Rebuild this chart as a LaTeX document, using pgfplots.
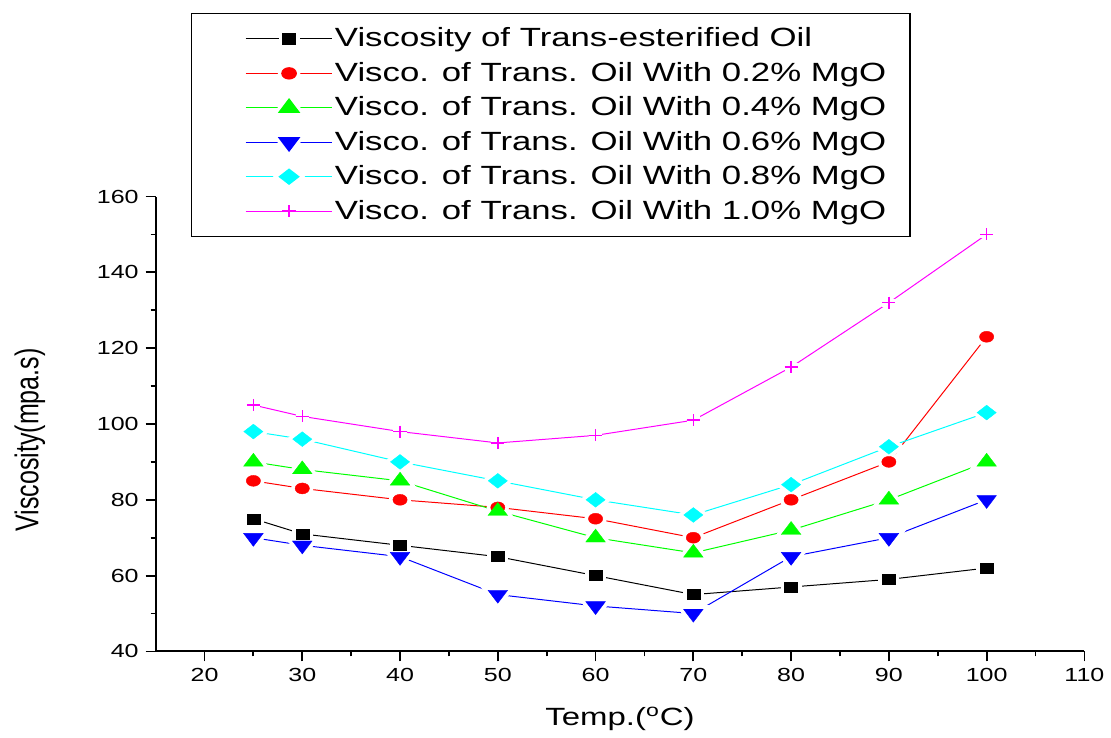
\documentclass[border=0pt]{standalone}
\usepackage{fontspec}
\setmainfont{Liberation Sans}[FakeStretch=1.32]
\newfontfamily\ylabfont{Liberation Sans}[FakeStretch=0.76]
\usepackage{pgfplots}
\usepackage{pgfplotstable}
\pgfplotsset{compat=1.18}
\definecolor{cMag}{RGB}{255,0,255}
\definecolor{cCy}{RGB}{0,255,255}
\definecolor{cGr}{RGB}{0,255,0}
\definecolor{cBl}{RGB}{0,0,255}
\definecolor{cRd}{RGB}{255,0,0}

\pgfplotstableread{
x y
25 75
30 71
40 68
50 65
60 60
70 55
80 57
90 59
100 62
}\tOil
\pgfplotstableread{
x y
25 85
30 83
40 80
50 78
60 75
70 70
80 80
90 90
100 123
}\tTwo
\pgfplotstableread{
x y
25 90
30 88
40 85
50 77
60 70
70 66
80 72
90 80
100 90
}\tFour
\pgfplotstableread{
x y
25 70
30 68
40 65
50 55
60 52
70 50
80 65
90 70
100 80
}\tSix
\pgfplotstableread{
x y
25 98
30 96
40 90
50 85
60 80
70 76
80 84
90 94
100 103
}\tEight
\pgfplotstableread{
x y
25 105
30 102
40 98
50 95
60 97
70 101
80 115
90 132
100 150
}\tTen

% marker shapes (the picture is stretched sideways, so are the marks)
\tikzset{
  mkA/.style={mark=square*, mark size=2.5pt, mark options={xscale=1.3, #1}},
  mkB/.style={mark=*, mark size=2.75pt, mark options={xscale=1.3, #1}},
  mkC/.style={mark=triangle*, mark size=4.33pt, mark options={xscale=1.31, #1}},
  mkD/.style={mark=triangle*, mark size=4.33pt, mark options={xscale=1.31, rotate=180, #1}},
  mkE/.style={mark=diamond*, mark size=3.7pt, mark options={xscale=1.73, #1}},
  mkF/.style={mark=+, mark size=3pt, mark options={xscale=1.1, #1}},
  halo/.style={draw=white, fill=white, line width=4pt},
}
% legend sample: line in colour #1, gap, mark style #2
\pgfplotsset{leg/.style 2 args={legend image code/.code={
  \path (0pt,0pt);
  \draw[draw=#1, line width=0.5pt] (16pt,0pt) -- (59.5pt,0pt);
  \path plot[#2={halo}] coordinates {(37.75pt,0pt)};
  \path plot[#2={draw=#1, fill=#1, line width=0.7pt}] coordinates {(37.75pt,0pt)};}}}

\begin{document}
\begin{tikzpicture}
\begin{axis}[
  name=ax,
  scale only axis,
  width=465.5pt, height=228pt,
  xmin=15, xmax=110, ymin=40, ymax=160,
  xtick={20,30,...,110}, ytick={40,60,...,160},
  minor x tick num=1, minor y tick num=1,
  axis lines=left,
  axis line style={-, line width=1pt},
  tick style={black, line width=0.9pt},
  tick align=outside,
  major tick length=5pt, minor tick length=2.5pt,
  /pgf/number format/assume math mode=true,
  ticklabel style={font=\fontsize{9.5}{11}\selectfont},
  xlabel={Temp.(\textsuperscript{o}C)},
  xlabel style={font=\fontsize{12.5}{15}\selectfont},
  xlabel shift=6pt,
  ylabel={Viscosity(mpa.s)},
  ylabel style={font=\fontsize{16.5}{19}\ylabfont, xshift=-8pt},
  ylabel shift=19pt,
  every axis plot/.append style={line width=0.5pt},
  legend cell align=left,
  legend style={
    at={(0.0376,1.4035)}, anchor=north west,
    draw=black, line width=0.75pt,
    font=\fontsize{13.2}{16}\selectfont,
    inner xsep=11pt, inner ysep=4pt,
    row sep=0pt,
    nodes={inner ysep=3.1pt, inner xsep=1pt},
  },
]
% lines
\addplot[black, no markers, leg={black}{mkA}] table {\tOil};
\addlegendentry{Viscosity of Trans-esterified Oil}
\addplot[cRd, no markers, leg={cRd}{mkB}] table {\tTwo};
\addlegendentry{Visco. of Trans. Oil With 0.2\% MgO}
\addplot[cGr, no markers, leg={cGr}{mkC}] table {\tFour};
\addlegendentry{Visco. of Trans. Oil With 0.4\% MgO}
\addplot[cBl, no markers, leg={cBl}{mkD}] table {\tSix};
\addlegendentry{Visco. of Trans. Oil With 0.6\% MgO}
\addplot[cCy, no markers, leg={cCy}{mkE}] table {\tEight};
\addlegendentry{Visco. of Trans. Oil With 0.8\% MgO}
\addplot[cMag, no markers, leg={cMag}{mkF}] table {\tTen};
\addlegendentry{Visco. of Trans. Oil With 1.0\% MgO}
% white gaps round the marks
\addplot[only marks, forget plot, mkA={halo}] table {\tOil};
\addplot[only marks, forget plot, mkB={halo}] table {\tTwo};
\addplot[only marks, forget plot, mkC={halo}] table {\tFour};
\addplot[only marks, forget plot, mkD={halo}] table {\tSix};
\addplot[only marks, forget plot, mkE={halo}] table {\tEight};
\addplot[only marks, forget plot, mkF={halo}] table {\tTen};
% marks
\addplot[only marks, forget plot, mkA={draw=black, fill=black, line width=0.2pt}] table {\tOil};
\addplot[only marks, forget plot, mkB={draw=cRd, fill=cRd, line width=0.2pt}] table {\tTwo};
\addplot[only marks, forget plot, mkC={draw=cGr, fill=cGr, line width=0.2pt}] table {\tFour};
\addplot[only marks, forget plot, mkD={draw=cBl, fill=cBl, line width=0.2pt}] table {\tSix};
\addplot[only marks, forget plot, mkE={draw=cCy, fill=cCy, line width=0.2pt}] table {\tEight};
\addplot[only marks, forget plot, mkF={draw=cMag, line width=0.7pt}] table {\tTen};
\end{axis}
\path (ax.south west) ++(-78pt,-40pt) coordinate (bbA);
\path (ax.north east) ++(12pt,98.5pt) coordinate (bbB);
\path (bbA) rectangle (bbB);
\end{tikzpicture}
\end{document}
